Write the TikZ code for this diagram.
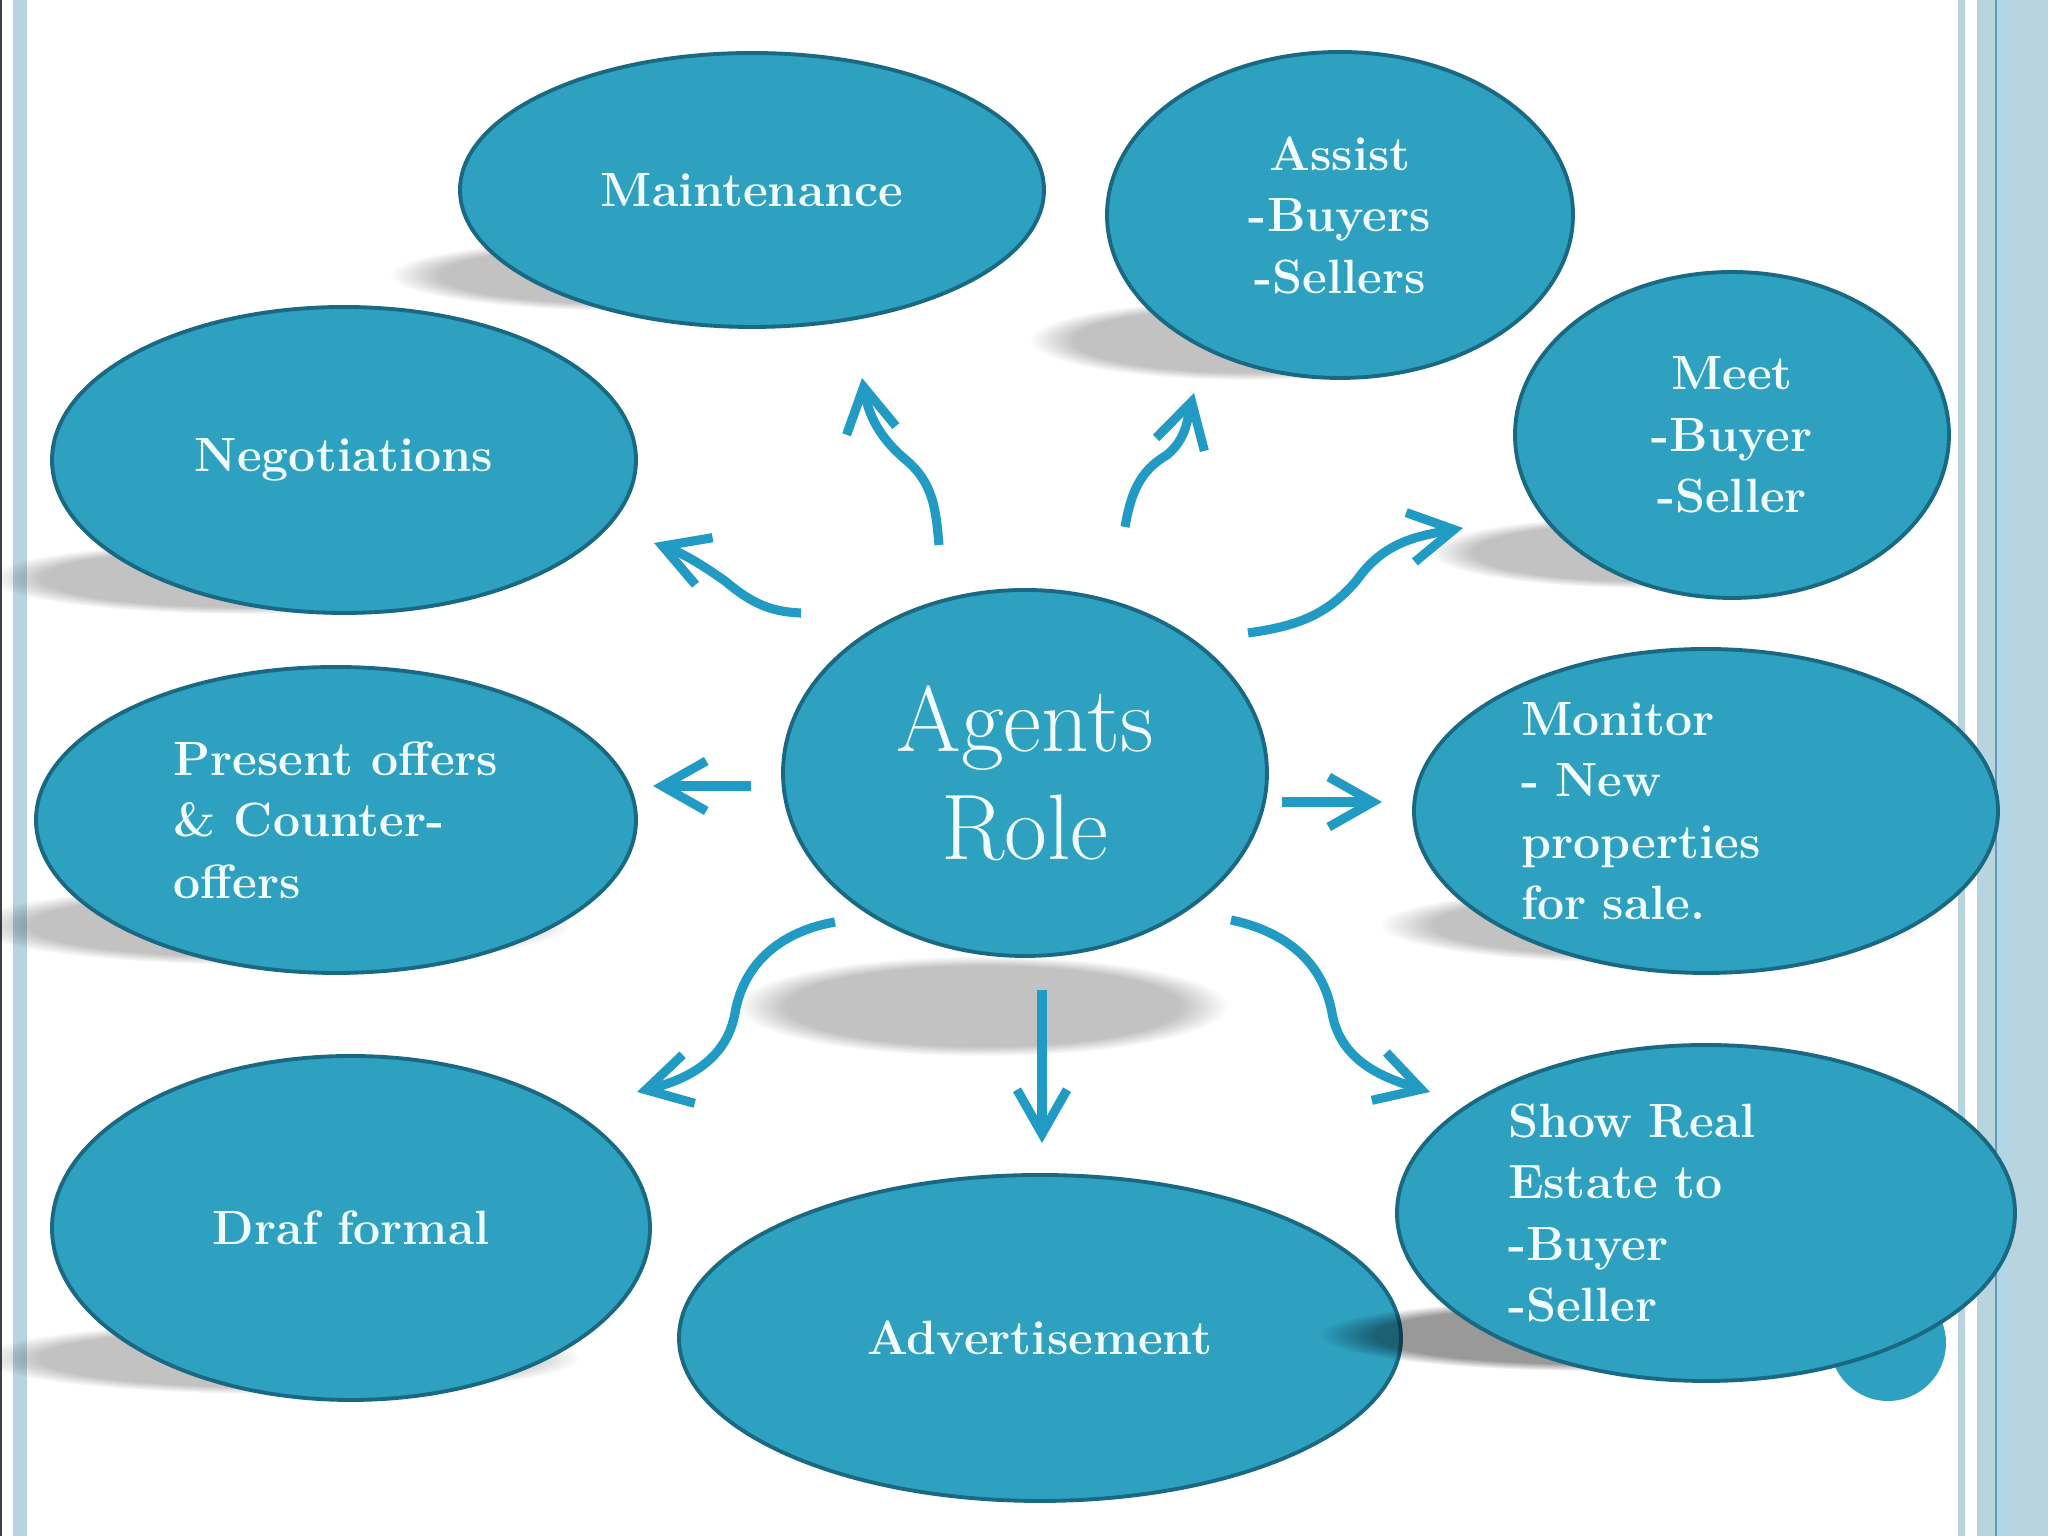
\documentclass[tikz,border=0pt]{standalone}
\usepackage{xcolor}
\usepackage{tikz}
\usetikzlibrary{shapes.geometric, arrows.meta, positioning, calc, fadings}
\definecolor{mybubble}{RGB}{46,160,192}
\definecolor{myedge}{RGB}{26,105,130}
\definecolor{myarrow}{RGB}{33,155,195}
\definecolor{mytext}{RGB}{240,252,254}
\definecolor{myframe}{RGB}{184,212,222}
\definecolor{myframedark}{RGB}{100,155,178}
\definecolor{myframelight}{RGB}{178,214,232}
\tikzset{
  bubble/.style={ellipse, draw=myedge, fill=mybubble, line width=1.1pt,
    text=mytext, inner sep=0pt, align=center,
    font=\fontsize{13.7}{17.5}\selectfont\bfseries},
  hubbubble/.style={bubble, font=\fontsize{26.5}{30.8}\selectfont},
  flow/.style={myarrow, line width=2.6pt,
    -{Straight Barb[length=4.4mm, width=5mm]}},
  softshadow/.style={black, opacity=0.24,
    path fading=circle with fuzzy edge 20 percent}
}

\begin{document}
\begin{tikzpicture}
  \useasboundingbox (0,0) rectangle (20.48,15.36);
  \clip (0,0) rectangle (20.48,15.36);
  \fill[white] (0,0) rectangle (20.48,15.36);

  % slide frame
  \fill[black!75] (0,0) rectangle (0.02,15.36);
  \fill[myframe] (0.13,0) rectangle (0.27,15.36);
  \fill[myframe] (19.58,0) rectangle (19.65,15.36);
  \fill[myframe] (19.77,0) rectangle (20.48,15.36);
  \fill[myframelight] (19.97,0) rectangle (20.10,15.36);
  \fill[myframedark] (19.95,0) rectangle (19.97,15.36);

  % shadows
  \foreach \cx/\cy/\rx/\ry in {6.40/12.61/2.5/0.36, 12.50/11.96/2.2/0.40,
      2.50/9.58/2.6/0.36, 16.50/9.84/2.2/0.36, 2.70/6.11/3.0/0.40,
      16.50/6.11/2.7/0.38, 9.83/5.30/2.45/0.50, 2.80/1.78/3.0/0.36}
    \fill[softshadow] (\cx,\cy) ellipse [x radius=\rx, y radius=\ry];

  \node[bubble, minimum width=5.84cm, minimum height=2.74cm] (maint) at (7.52,13.46) {Maintenance};
  \node[bubble, minimum width=4.66cm, minimum height=3.26cm] (assist) at (13.40,13.21) {Assist\\-Buyers\\-Sellers};
  \node[bubble, minimum width=5.84cm, minimum height=3.06cm] (negot) at (3.44,10.76) {Negotiations};
  \node[bubble, minimum width=4.34cm, minimum height=3.26cm] (meet) at (17.32,11.01) {Meet\\-Buyer\\-Seller};
  \node[bubble, align=left, minimum width=6.00cm, minimum height=3.06cm] (offers) at (3.36,7.16) {Present offers\\\& Counter-\\offers};
  \node[bubble, align=left, text width=3.7cm, minimum width=5.84cm, minimum height=3.24cm] (monitor) at (17.06,7.25) {Monitor\\- New\\properties\\for sale.};
  \node[hubbubble, minimum width=4.84cm, minimum height=3.66cm] (agents) at (10.25,7.63) {Agents\\Role};
  \node[bubble, minimum width=5.98cm, minimum height=3.44cm] (draf) at (3.51,3.08) {Draf formal};
  \node[bubble, minimum width=7.22cm, minimum height=3.26cm] (advert) at (10.40,1.98) {Advertisement};

  \fill[softshadow, opacity=0.4] (16.00,2.01) ellipse [x radius=2.8, y radius=0.36];
  \fill[mybubble] (18.88,1.93) circle (0.58);
  \node[bubble, align=left, text width=3.96cm, minimum width=6.18cm, minimum height=3.36cm] (show) at (17.06,3.23) {Show Real\\Estate to\\-Buyer\\-Seller};

  % arrows
  \coordinate (negs) at (8.01,9.23);   \coordinate (negm) at (7.25,9.55);   \coordinate (negt) at (6.54,9.93);
  \coordinate (maints) at (9.39,9.91); \coordinate (maintm) at (9.06,10.76); \coordinate (maintt) at (8.62,11.58);
  \coordinate (asss) at (11.25,10.09); \coordinate (assm) at (11.67,10.81); \coordinate (asst) at (11.94,11.43);
  \coordinate (meets) at (12.48,9.03); \coordinate (meetm) at (13.57,9.56); \coordinate (meett) at (14.63,10.08);
  \coordinate (offs) at (7.51,7.50);   \coordinate (offt) at (6.53,7.50);
  \coordinate (mons) at (12.82,7.34);  \coordinate (mont) at (13.82,7.34);
  \coordinate (drafs) at (8.35,6.14);  \coordinate (drafm) at (7.35,5.23);  \coordinate (draft) at (6.37,4.44);
  \coordinate (advs) at (10.42,5.46);  \coordinate (advt) at (10.42,3.93);
  \coordinate (shows) at (12.31,6.16); \coordinate (showm) at (13.32,5.23); \coordinate (showt) at (14.30,4.44);

  \draw[flow] (negs) to[out=178,in=-40] (negm) to[out=145,in=-20] (negt);
  \draw[flow] (maints) to[out=95,in=-40] (maintm) to[out=140,in=-80] (maintt);
  \draw[flow] (asss) to[out=80,in=-150] (assm) to[out=40,in=-105] (asst);
  \draw[flow] (meets) to[out=8,in=-130] (meetm) to[out=55,in=190] (meett);
  \draw[flow] (offs) -- (offt);
  \draw[flow] (mons) -- (mont);
  \draw[flow] (drafs) to[out=190,in=80] (drafm) to[out=-100,in=14] (draft);
  \draw[flow] (advs) -- (advt);
  \draw[flow] (shows) to[out=-12,in=100] (showm) to[out=-80,in=163] (showt);
\end{tikzpicture}
\end{document}
